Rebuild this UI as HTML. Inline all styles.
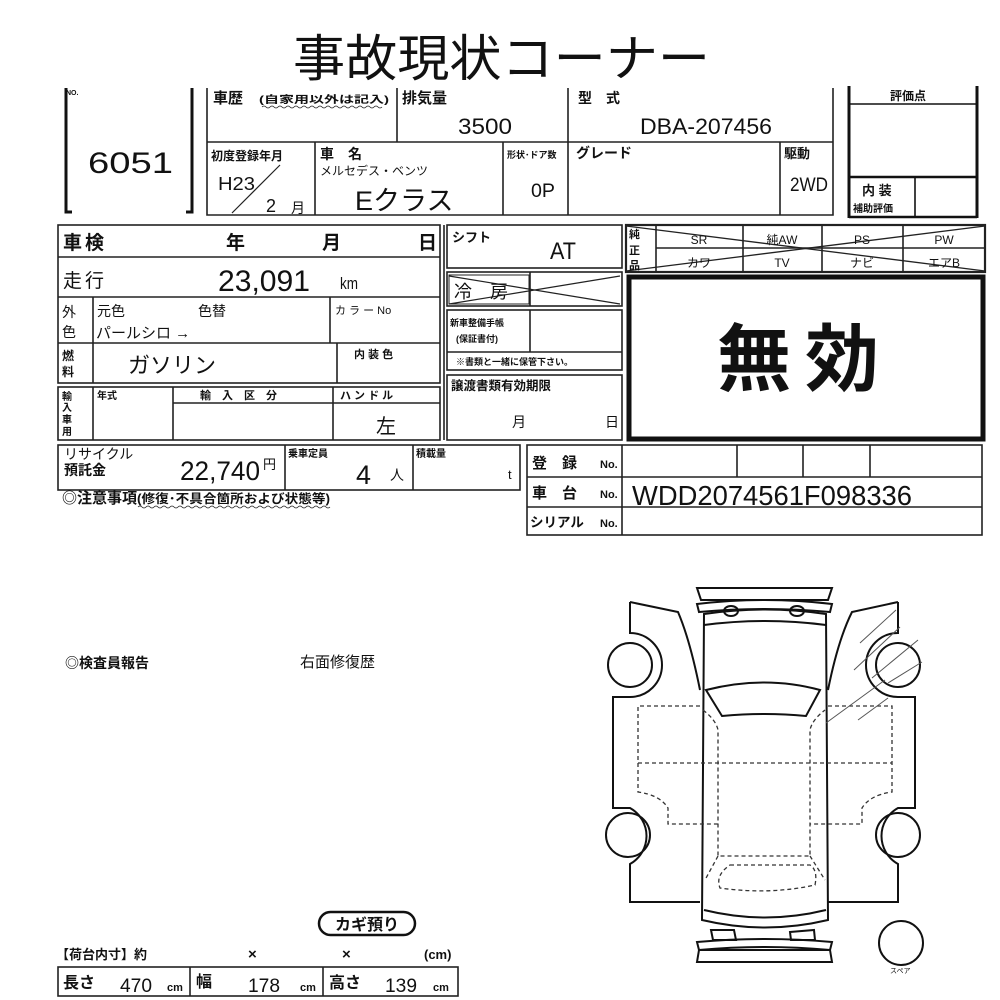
<!DOCTYPE html>
<html><head><meta charset="utf-8"><style>
html,body{margin:0;padding:0;background:#fff;}
svg{display:block;}
text{font-family:"Liberation Sans","Noto Sans CJK JP",sans-serif;fill:#111;}
.b{font-weight:bold;}
</style></head><body>
<svg width="1000" height="1000" viewBox="0 0 1000 1000" xmlns="http://www.w3.org/2000/svg">
<text x="293" y="76" font-size="50" textLength="417" lengthAdjust="spacingAndGlyphs">事故現状コーナー</text>

<g stroke="#111" fill="none" stroke-width="3">
<path d="M66 88 V212 H72"/>
<path d="M192 88 V212 H186"/>
</g>
<text x="66" y="95" font-size="7" class="b">NO.</text>
<text x="88" y="173" font-size="30" textLength="85" lengthAdjust="spacingAndGlyphs">6051</text>

<g stroke="#222" fill="none" stroke-width="1.6">
<path d="M207 88 V215 H833 V88"/>
<line x1="397" y1="88" x2="397" y2="142"/>
<line x1="568" y1="88" x2="568" y2="215"/>
<line x1="207" y1="142" x2="833" y2="142"/>
<line x1="315" y1="142" x2="315" y2="215"/>
<line x1="503" y1="142" x2="503" y2="215"/>
<line x1="780" y1="142" x2="780" y2="215"/>
<line x1="232" y1="213" x2="280" y2="165" stroke-width="1.2"/>
<path d="M262 107 q2 -2 4 0 t4 0 t4 0 t4 0 t4 0 t4 0 t4 0 t4 0 t4 0 t4 0 t4 0 t4 0 t4 0 t4 0 t4 0 t4 0 t4 0 t4 0 t4 0 t4 0 t4 0 t4 0 t4 0 t4 0 t4 0 t4 0 t4 0 t4 0 t4 0 t4 0" stroke-width="0.8"/>
</g>
<text x="213" y="103" font-size="15" class="b">車歴</text>
<text x="259" y="103" font-size="10" class="b" textLength="130" lengthAdjust="spacingAndGlyphs">(自家用以外は記入)</text>
<text x="402" y="103" font-size="15" class="b">排気量</text>
<text x="458" y="134" font-size="22" textLength="54" lengthAdjust="spacingAndGlyphs">3500</text>
<text x="578" y="103" font-size="14" class="b">型　式</text>
<text x="640" y="134" font-size="22" textLength="132" lengthAdjust="spacingAndGlyphs">DBA-207456</text>
<text x="211" y="160" font-size="12" class="b">初度登録年月</text>
<text x="218" y="190" font-size="18" textLength="37" lengthAdjust="spacingAndGlyphs">H23</text>
<text x="266" y="212" font-size="18" textLength="10" lengthAdjust="spacingAndGlyphs">2</text>
<text x="291" y="213" font-size="14">月</text>
<text x="320" y="159" font-size="14" class="b">車　名</text>
<text x="320" y="175" font-size="12">メルセデス・ベンツ</text>
<text x="355" y="210" font-size="27">Eクラス</text>
<text x="507" y="158" font-size="9" class="b">形状･ドア数</text>
<text x="531" y="197" font-size="19" textLength="24" lengthAdjust="spacingAndGlyphs">0P</text>
<text x="576" y="158" font-size="14" class="b">グレード</text>
<text x="784" y="158" font-size="13" class="b">駆動</text>
<text x="790" y="191" font-size="19" textLength="38" lengthAdjust="spacingAndGlyphs">2WD</text>

<g stroke="#111" fill="none">
<line x1="849" y1="86" x2="849" y2="218" stroke-width="3"/>
<line x1="977" y1="86" x2="977" y2="218" stroke-width="3"/>
<line x1="849" y1="104" x2="977" y2="104" stroke-width="1.6"/>
<line x1="849" y1="177" x2="977" y2="177" stroke-width="2.4"/>
<line x1="849" y1="217" x2="977" y2="217" stroke-width="2.4"/>
<line x1="915" y1="177" x2="915" y2="217" stroke-width="1.6"/>
</g>
<text x="890" y="100" font-size="12" class="b">評価点</text>
<text x="862" y="195" font-size="13" class="b">内 装</text>
<text x="853" y="212" font-size="10" class="b">補助評価</text>

<g stroke="#222" fill="none" stroke-width="1.6">
<rect x="58" y="225" width="382" height="158"/>
<line x1="58" y1="257" x2="440" y2="257"/>
<line x1="58" y1="297" x2="440" y2="297"/>
<line x1="58" y1="343" x2="440" y2="343"/>
<line x1="93" y1="297" x2="93" y2="383"/>
<line x1="330" y1="297" x2="330" y2="343"/>
<line x1="337" y1="343" x2="337" y2="383"/>
<rect x="58" y="387" width="382" height="53"/>
<line x1="93" y1="387" x2="93" y2="440"/>
<line x1="173" y1="387" x2="173" y2="440"/>
<line x1="333" y1="387" x2="333" y2="440"/>
<line x1="173" y1="403" x2="440" y2="403"/>
<rect x="58" y="445" width="462" height="45"/>
<line x1="285" y1="445" x2="285" y2="490"/>
<line x1="413" y1="445" x2="413" y2="490"/>
<path d="M138 507 q2 -2 4 0 t4 0 t4 0 t4 0 t4 0 t4 0 t4 0 t4 0 t4 0 t4 0 t4 0 t4 0 t4 0 t4 0 t4 0 t4 0 t4 0 t4 0 t4 0 t4 0 t4 0 t4 0 t4 0 t4 0 t4 0 t4 0 t4 0 t4 0 t4 0 t4 0 t4 0 t4 0 t4 0 t4 0 t4 0 t4 0 t4 0 t4 0 t4 0 t4 0 t4 0 t4 0 t4 0 t4 0 t4 0 t4 0 t4 0 t4 0" stroke-width="0.8"/>
</g>
<text x="63" y="249" font-size="19" class="b" letter-spacing="3">車検</text>
<text x="226" y="249" font-size="19" class="b">年</text>
<text x="322" y="249" font-size="19" class="b">月</text>
<text x="418" y="249" font-size="19" class="b">日</text>
<text x="63" y="287" font-size="19" letter-spacing="3">走行</text>
<text x="218" y="291" font-size="30" textLength="92" lengthAdjust="spacingAndGlyphs">23,091</text>
<text x="340" y="289" font-size="17" textLength="18" lengthAdjust="spacingAndGlyphs">km</text>
<text x="62" y="317" font-size="14">外</text>
<text x="62" y="337" font-size="14">色</text>
<text x="97" y="316" font-size="14">元色</text>
<text x="198" y="316" font-size="14">色替</text>
<text x="335" y="314" font-size="11">カ ラ ー No</text>
<text x="96" y="338" font-size="15">パールシロ →</text>
<text x="62" y="360" font-size="12" class="b">燃</text>
<text x="62" y="376" font-size="12" class="b">料</text>
<text x="128" y="373" font-size="22">ガソリン</text>
<text x="354" y="358" font-size="11" class="b">内 装 色</text>
<text x="62" y="400" font-size="10" class="b">輸</text>
<text x="62" y="411" font-size="10" class="b">入</text>
<text x="62" y="423" font-size="10" class="b">車</text>
<text x="62" y="435" font-size="10" class="b">用</text>
<text x="97" y="399" font-size="10" class="b">年式</text>
<text x="200" y="399" font-size="11" class="b">輸　入　区　分</text>
<text x="340" y="399" font-size="11" class="b">ハ ン ド ル</text>
<text x="376" y="433" font-size="20">左</text>
<text x="64" y="459" font-size="14">リサイクル</text>
<text x="64" y="475" font-size="14" class="b">預託金</text>
<text x="180" y="480" font-size="27" textLength="80" lengthAdjust="spacingAndGlyphs">22,740</text>
<text x="263" y="469" font-size="13">円</text>
<text x="288" y="457" font-size="10" class="b">乗車定員</text>
<text x="356" y="484" font-size="27" textLength="15" lengthAdjust="spacingAndGlyphs">4</text>
<text x="390" y="480" font-size="14">人</text>
<text x="416" y="457" font-size="10" class="b">積載量</text>
<text x="508" y="479" font-size="13">t</text>
<text x="62" y="503" font-size="15" class="b">◎注意事項</text>
<text x="137" y="503" font-size="12.5" class="b" textLength="193" lengthAdjust="spacingAndGlyphs">(修復･不具合箇所および状態等)</text>

<g stroke="#222" fill="none" stroke-width="1.6">
<line x1="444" y1="225" x2="444" y2="440"/>
<rect x="447" y="225" width="175" height="43"/>
<rect x="447" y="272" width="175" height="34"/>
<line x1="530" y1="272" x2="530" y2="306"/>
<rect x="449" y="275" width="80" height="29" stroke-width="1"/>
<line x1="449" y1="276" x2="620" y2="304" stroke-width="1.2"/>
<line x1="449" y1="304" x2="620" y2="276" stroke-width="1.2"/>
<rect x="447" y="310" width="175" height="60"/>
<line x1="530" y1="310" x2="530" y2="352"/>
<line x1="447" y1="352" x2="622" y2="352"/>
<rect x="447" y="375" width="175" height="65"/>
</g>
<text x="452" y="242" font-size="13" class="b">シフト</text>
<text x="550" y="259" font-size="24" textLength="26" lengthAdjust="spacingAndGlyphs">AT</text>
<text x="454" y="298" font-size="18">冷　房</text>
<text x="450" y="326" font-size="9" class="b">新車整備手帳</text>
<text x="456" y="342" font-size="9" class="b">(保証書付)</text>
<text x="456" y="365" font-size="9" class="b">※書類と一緒に保管下さい。</text>
<text x="451" y="390" font-size="12.5" class="b">譲渡書類有効期限</text>
<text x="512" y="427" font-size="14">月</text>
<text x="605" y="427" font-size="14">日</text>

<g stroke="#222" fill="none" stroke-width="1.6">
<rect x="626" y="225" width="359" height="47" stroke-width="2.2"/>
<line x1="656" y1="225" x2="656" y2="272"/>
<line x1="743" y1="225" x2="743" y2="272"/>
<line x1="822" y1="225" x2="822" y2="272"/>
<line x1="903" y1="225" x2="903" y2="272"/>
<line x1="656" y1="248" x2="985" y2="248"/>
<line x1="626" y1="226" x2="985" y2="271" stroke-width="1.3"/>
<line x1="626" y1="271" x2="985" y2="226" stroke-width="1.3"/>
<rect x="629" y="277" width="354" height="162" stroke="#111" stroke-width="5"/>
</g>
<text x="629" y="238" font-size="11" class="b">純</text>
<text x="629" y="254" font-size="11" class="b">正</text>
<text x="629" y="269" font-size="11" class="b">品</text>
<text x="699" y="244" font-size="12" text-anchor="middle">SR</text>
<text x="782" y="244" font-size="12" text-anchor="middle">純AW</text>
<text x="862" y="244" font-size="12" text-anchor="middle">PS</text>
<text x="944" y="244" font-size="12" text-anchor="middle">PW</text>
<text x="699" y="267" font-size="12" text-anchor="middle">カワ</text>
<text x="782" y="267" font-size="12" text-anchor="middle">TV</text>
<text x="862" y="267" font-size="12" text-anchor="middle">ナビ</text>
<text x="944" y="267" font-size="12" text-anchor="middle">エアB</text>
<text x="805" y="385" font-size="74" class="b" text-anchor="middle" letter-spacing="14">無効</text>

<g stroke="#222" fill="none" stroke-width="1.6">
<rect x="527" y="445" width="455" height="90"/>
<line x1="527" y1="477" x2="982" y2="477"/>
<line x1="527" y1="507" x2="982" y2="507"/>
<line x1="622" y1="445" x2="622" y2="535"/>
<line x1="737" y1="445" x2="737" y2="477"/>
<line x1="803" y1="445" x2="803" y2="477"/>
<line x1="870" y1="445" x2="870" y2="477"/>
</g>
<text x="532" y="468" font-size="15" class="b">登　録</text>
<text x="600" y="468" font-size="11" class="b">No.</text>
<text x="532" y="498" font-size="15" class="b">車　台</text>
<text x="600" y="498" font-size="11" class="b">No.</text>
<text x="530" y="527" font-size="13.5" class="b">シリアル</text>
<text x="600" y="527" font-size="11" class="b">No.</text>
<text x="632" y="505" font-size="28" textLength="280" lengthAdjust="spacingAndGlyphs">WDD2074561F098336</text>

<text x="65" y="668" font-size="14" class="b">◎検査員報告</text>
<text x="300" y="667" font-size="15">右面修復歴</text>

<g stroke="#111" fill="none" stroke-width="2">
<path d="M697 588 H832 L828 600 H701 Z"/>
<path d="M697 604 Q765 596 832 604 L830 612 Q765 606 699 612 Z"/>
<ellipse cx="731" cy="611" rx="7" ry="5"/>
<ellipse cx="797" cy="611" rx="7" ry="5"/>
<path d="M704 614 Q765 605 826 614 L828 920 Q765 935 702 920 Z"/>
<path d="M704 625 Q765 617 826 625"/>
<path d="M706 690 Q765 675 820 690 L806 716 Q765 712 722 716 Z"/>
<path d="M704 910 Q765 925 826 910"/>
<path d="M711 930 L734 930 L736 940 L713 940 Z"/>
<path d="M790 932 L814 930 L815 940 L791 940 Z"/>
<path d="M697 942 Q765 936 832 942 L830 950 Q765 944 699 950 Z"/>
<path d="M699 950 H830 L832 962 H697 Z"/>
<path d="M630 602 L678 612 Q690 640 700 690"/>
<path d="M630 602 V633 A32 32 0 0 1 630 697 H613 V808 H630 A32 32 0 0 1 630 864 V902 H700"/>
<circle cx="630" cy="665" r="22"/>
<circle cx="628" cy="835" r="22"/>
<path d="M898 602 L852 612 Q838 640 828 690"/>
<path d="M898 602 V633 A32 32 0 0 0 898 697 H915 V808 H898 A32 32 0 0 0 898 864 V902 H828"/>
<circle cx="898" cy="665" r="22"/>
<circle cx="898" cy="835" r="22"/>
<circle cx="901" cy="943" r="22"/>
</g>
<g stroke="#333" fill="none" stroke-width="1.3" stroke-dasharray="4 3">
<path d="M700 706 H638 V792 Q660 795 668 808 V824 H720"/>
<path d="M828 706 H892 V792 Q870 795 862 808 V824 H810"/>
<line x1="638" y1="763" x2="892" y2="763"/>
<path d="M703 710 Q716 720 718 730 V856 H810 V730 Q812 720 825 710"/>
<path d="M718 856 L705 880 M810 856 L825 880"/>
<path d="M730 865 H810 Q818 870 815 885 Q770 895 720 888 Q715 875 730 865 Z"/>
</g>
<g stroke="#555" stroke-width="1" fill="none">
<line x1="860" y1="643" x2="896" y2="610"/>
<line x1="854" y1="670" x2="900" y2="627"/>
<line x1="872" y1="678" x2="918" y2="640"/>
<line x1="888" y1="683" x2="922" y2="662"/>
<line x1="826" y1="723" x2="885" y2="680"/>
<line x1="858" y1="720" x2="888" y2="698"/>
</g>
<text x="890" y="973" font-size="7">スペア</text>

<rect x="319" y="912" width="96" height="23" rx="11.5" fill="none" stroke="#111" stroke-width="2.5"/>
<text x="367" y="930" font-size="16" class="b" text-anchor="middle">カギ預り</text>
<text x="56" y="959" font-size="13" class="b">【荷台内寸】約</text>
<text x="248" y="959" font-size="15" class="b">×</text>
<text x="342" y="959" font-size="15" class="b">×</text>
<text x="424" y="959" font-size="13" class="b">(cm)</text>
<g stroke="#222" fill="none" stroke-width="1.6">
<rect x="58" y="967" width="400" height="29"/>
<line x1="190" y1="967" x2="190" y2="996"/>
<line x1="323" y1="967" x2="323" y2="996"/>
</g>
<text x="63" y="988" font-size="16" class="b">長さ</text>
<text x="120" y="992" font-size="19" textLength="32" lengthAdjust="spacingAndGlyphs">470</text>
<text x="167" y="991" font-size="11" class="b">cm</text>
<text x="196" y="987" font-size="16" class="b">幅</text>
<text x="248" y="992" font-size="19" textLength="32" lengthAdjust="spacingAndGlyphs">178</text>
<text x="300" y="991" font-size="11" class="b">cm</text>
<text x="329" y="988" font-size="16" class="b">高さ</text>
<text x="385" y="992" font-size="19" textLength="32" lengthAdjust="spacingAndGlyphs">139</text>
<text x="433" y="991" font-size="11" class="b">cm</text>
</svg>
</body></html>
